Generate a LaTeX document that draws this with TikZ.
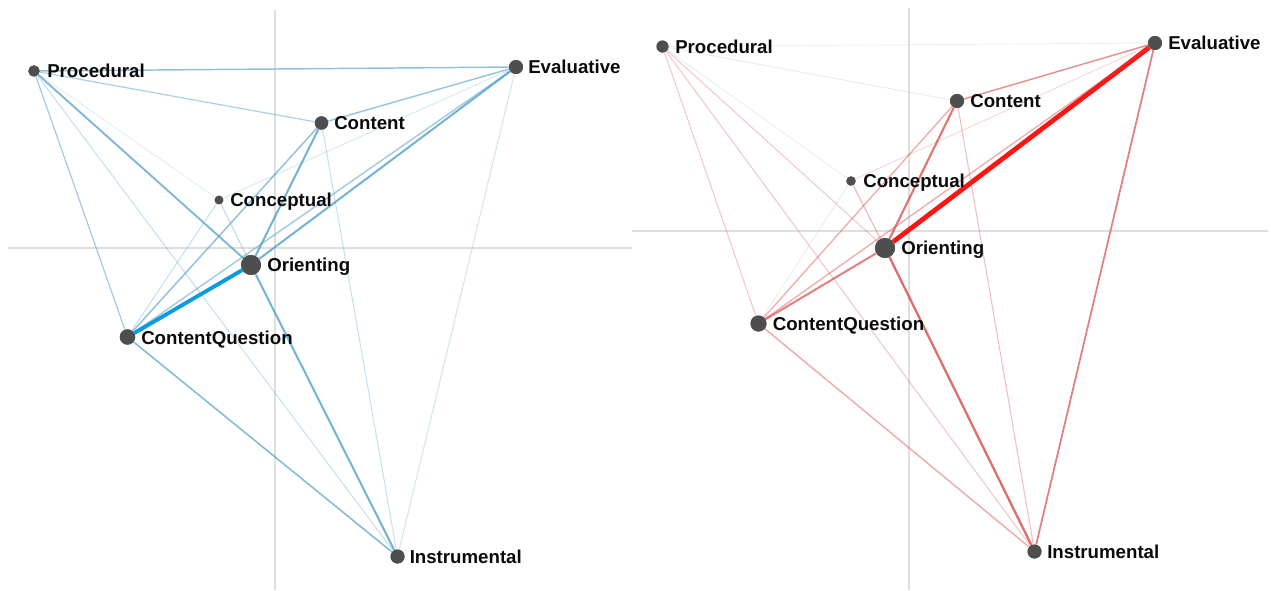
\documentclass[tikz,border=0pt]{standalone}
\usepackage{fontspec}
\setmainfont{Liberation Sans}
\definecolor{edgeblue}{RGB}{70,152,195}
\definecolor{hotblue}{RGB}{10,155,225}
\definecolor{edgered}{RGB}{214,72,72}
\definecolor{hotred}{RGB}{255,20,20}
\definecolor{faintb}{RGB}{170,198,220}
\definecolor{dotgray}{RGB}{78,78,78}
\definecolor{axisgray}{RGB}{222,222,222}
\definecolor{txt}{RGB}{10,10,10}
\tikzset{
  dot/.style={circle, fill=dotgray, draw=none, inner sep=0pt, minimum size=#1},
  lbl/.style={anchor=base west, inner sep=0pt, text=txt, font=\fontsize{14}{16}\selectfont\bfseries},
  axisline/.style={draw=axisgray, line width=1.5pt},
  eb/.style 2 args={draw=edgeblue, line width=#1, draw opacity=#2},
  er/.style 2 args={draw=edgered, line width=#1, draw opacity=#2},
  ef/.style={draw=faintb, line width=0.7pt, draw opacity=#1},
}
\begin{document}
\begin{tikzpicture}[x=0.75pt,y=-0.75pt]
\useasboundingbox (0,0) rectangle (1271,590);
% ---------- axes ----------
\coordinate (LaxT) at (275,10);   \coordinate (LaxB) at (275,590);
\coordinate (LaxL) at (8,247.5);  \coordinate (LaxR) at (632,247.5);
\coordinate (RaxT) at (909,8);    \coordinate (RaxB) at (909,590);
\coordinate (RaxL) at (632,231);  \coordinate (RaxR) at (1268,231);
\draw[axisline] (LaxT) -- (LaxB);
\draw[axisline] (LaxL) -- (LaxR);
\draw[axisline] (RaxT) -- (RaxB);
\draw[axisline] (RaxL) -- (RaxR);
% ---------- left nodes ----------
\node[dot=8.5pt]  (LP)  at (34,71)    {};
\node[dot=10.5pt] (LE)  at (516,67)   {};
\node[dot=10pt]   (LC)  at (321.5,123) {};
\node[dot=6.5pt]  (LK)  at (219,200)  {};
\node[dot=15pt]   (LO)  at (251,265)  {};
\node[dot=11.5pt] (LQ)  at (127.5,337) {};
\node[dot=10.5pt] (LI)  at (397.5,556.5) {};
% ---------- right nodes ----------
\node[dot=9pt]    (RP)  at (662.5,46.5) {};
\node[dot=10.5pt] (RE)  at (1155,43)  {};
\node[dot=10.5pt] (RC)  at (957,101)  {};
\node[dot=7pt]    (RK)  at (851,181)  {};
\node[dot=15pt]   (RO)  at (885,248)  {};
\node[dot=12pt]   (RQ)  at (758.5,323.5) {};
\node[dot=10.5pt] (RI)  at (1034.5,551.5) {};
% ---------- left edges ----------
\draw[eb={1.1pt}{0.6}]  (LP) -- (LE);
\draw[eb={0.9pt}{0.45}] (LP) -- (LC);
\draw[eb={0.8pt}{0.15}] (LP) -- (LK);
\draw[eb={1.4pt}{0.7}]  (LP) -- (LO);
\draw[eb={0.9pt}{0.5}]  (LP) -- (LQ);
\draw[eb={0.8pt}{0.3}]  (LP) -- (LI);
\draw[eb={1.1pt}{0.55}] (LE) -- (LC);
\draw[eb={0.8pt}{0.2}]  (LE) -- (LK);
\draw[eb={1.5pt}{0.75}] (LE) -- (LO);
\draw[eb={1.1pt}{0.5}]  (LE) -- (LQ);
\draw[eb={0.8pt}{0.25}] (LE) -- (LI);
\draw[eb={1.5pt}{0.75}] (LC) -- (LO);
\draw[eb={1.1pt}{0.6}]  (LC) -- (LQ);
\draw[eb={0.8pt}{0.3}]  (LC) -- (LI);
\draw[eb={0.8pt}{0.35}] (LK) -- (LO);
\draw[eb={0.8pt}{0.3}]  (LK) -- (LQ);
\draw[draw=hotblue, line width=2.9pt] (LO) -- (LQ);
\draw[eb={1.5pt}{0.75}] (LO) -- (LI);
\draw[eb={1.2pt}{0.65}] (LQ) -- (LI);
% ---------- right edges ----------
\draw[ef=0.25] (RP) -- (RE);
\draw[ef=0.3]  (RP) -- (RC);
\draw[ef=0.3]  (RP) -- (RK);
\draw[er={0.8pt}{0.3}]  (RP) -- (RO);
\draw[er={0.8pt}{0.3}]  (RP) -- (RQ);
\draw[er={0.8pt}{0.3}]  (RP) -- (RI);
\draw[er={1.1pt}{0.6}]  (RE) -- (RC);
\draw[er={0.8pt}{0.2}]  (RE) -- (RK);
\draw[draw=hotred, line width=3.6pt] (RE) -- (RO);
\draw[er={1pt}{0.45}]   (RE) -- (RQ);
\draw[er={1.3pt}{0.7}]  (RE) -- (RI);
\draw[er={1.6pt}{0.75}] (RC) -- (RO);
\draw[er={1pt}{0.45}]   (RC) -- (RQ);
\draw[er={0.8pt}{0.35}] (RC) -- (RI);
\draw[er={0.8pt}{0.4}]  (RK) -- (RO);
\draw[ef=0.3]  (RK) -- (RQ);
\draw[er={1.5pt}{0.7}]  (RO) -- (RQ);
\draw[er={1.7pt}{0.8}]  (RO) -- (RI);
\draw[er={1.1pt}{0.45}] (RQ) -- (RI);
% redraw dots on top
\foreach \n/\s in {LP/8.5pt,LE/10.5pt,LC/10pt,LK/6.5pt,LO/15pt,LQ/11.5pt,LI/10.5pt,RP/9pt,RE/10.5pt,RC/10.5pt,RK/7pt,RO/15pt,RQ/12pt,RI/10.5pt}
  \node[dot=\s] at (\n) {};
% ---------- labels ----------
\node[lbl] (LPt) at (47,77.5)  {Procedural};
\node[lbl] (LEt) at (528,73.5) {Evaluative};
\node[lbl] (LCt) at (334,129.5) {Content};
\node[lbl] (LKt) at (230,206.5) {Conceptual};
\node[lbl] (LOt) at (267,271.5) {Orienting};
\node[lbl] (LQt) at (141,344)  {ContentQuestion};
\node[lbl] (LIt) at (409.5,563) {Instrumental};
\node[lbl] (RPt) at (675,53)   {Procedural};
\node[lbl] (REt) at (1168,49.5) {Evaluative};
\node[lbl] (RCt) at (970,107.5) {Content};
\node[lbl] (RKt) at (863,187.5) {Conceptual};
\node[lbl] (ROt) at (901,254.5) {Orienting};
\node[lbl] (RQt) at (772.5,330) {ContentQuestion};
\node[lbl] (RIt) at (1047,558) {Instrumental};
\end{tikzpicture}
\end{document}
